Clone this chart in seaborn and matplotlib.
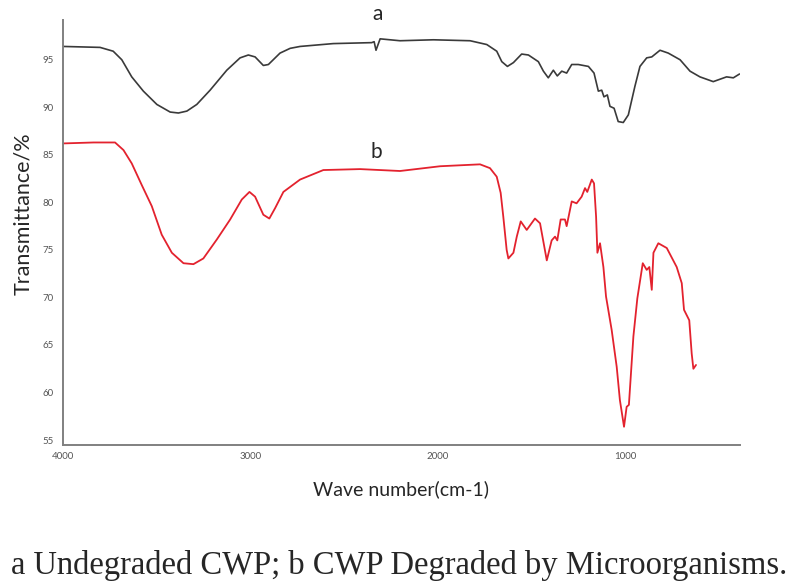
import matplotlib
matplotlib.use('Agg')
import matplotlib.pyplot as plt
import seaborn as sns

# ---- data (wave number, transmittance %) ----
wn_a = [4000, 3803, 3733, 3687, 3634, 3572, 3500, 3429, 3385, 3340,
        3287, 3216, 3127, 3056, 3012, 2976, 2932, 2905, 2843, 2789,
        2736, 2559, 2354, 2341, 2331, 2309, 2203, 2025, 1829, 1740,
        1687, 1660, 1630, 1598, 1554, 1518, 1465, 1438, 1412, 1385,
        1364, 1340, 1314, 1287, 1252, 1198, 1168, 1145, 1127, 1115,
        1097, 1083, 1061, 1039, 1012, 985, 950, 923, 887, 860,
        816, 772, 709, 656, 603, 532, 461, 425, 392]
t_a = [96.4, 96.3, 95.9, 95.0, 93.2, 91.7, 90.3, 89.5, 89.4, 89.6,
       90.3, 91.8, 93.9, 95.2, 95.5, 95.3, 94.4, 94.5, 95.7, 96.2,
       96.4, 96.7, 96.8, 96.9, 96.0, 97.2, 97.0, 97.1, 97.0, 96.6,
       95.9, 94.8, 94.3, 94.7, 95.6, 95.5, 94.8, 93.8, 93.1, 93.9,
       93.3, 93.8, 93.6, 94.5, 94.5, 94.3, 93.6, 91.7, 91.8, 91.1,
       91.3, 90.1, 89.9, 88.5, 88.4, 89.2, 92.2, 94.3, 95.2, 95.3,
       96.0, 95.7, 95.0, 93.8, 93.2, 92.7, 93.2, 93.1, 93.5]

wn_b = [4000, 3838, 3723, 3678, 3634, 3580, 3527, 3474, 3420, 3358,
        3305, 3252, 3180, 3109, 3047, 3006, 2976, 2932, 2900, 2869,
        2825, 2736, 2612, 2416, 2203, 1989, 1776, 1723, 1687, 1666,
        1652, 1634, 1625, 1598, 1580, 1559, 1527, 1483, 1456, 1420,
        1394, 1376, 1364, 1346, 1323, 1314, 1287, 1261, 1234, 1216,
        1204, 1180, 1168, 1157, 1150, 1136, 1118, 1104, 1074, 1047,
        1030, 1008, 994, 982, 958, 937, 908, 887, 873, 860,
        851, 825, 780, 727, 700, 688, 660, 647, 638, 624]
t_b = [86.2, 86.3, 86.3, 85.5, 84.1, 81.8, 79.6, 76.6, 74.7, 73.6,
       73.5, 74.1, 76.1, 78.2, 80.3, 81.1, 80.6, 78.7, 78.3, 79.4,
       81.1, 82.4, 83.4, 83.5, 83.3, 83.8, 84.0, 83.6, 82.7, 81.0,
       78.5, 75.0, 74.1, 74.7, 76.4, 78.0, 77.1, 78.3, 77.8, 73.9,
       76.0, 76.4, 76.0, 78.2, 78.2, 77.5, 80.1, 79.9, 80.6, 81.5,
       81.1, 82.4, 82.0, 78.5, 74.7, 75.7, 73.2, 70.1, 66.6, 62.7,
       59.2, 56.4, 58.5, 58.7, 65.9, 69.9, 73.6, 72.9, 73.2, 70.8,
       74.7, 75.7, 75.2, 73.2, 71.5, 68.7, 67.6, 64.1, 62.5, 62.9]

x_ticks = [4000, 3000, 2000, 1000]
y_ticks = [55, 60, 65, 70, 75, 80, 85, 90, 95]

sns.set_style('white')
plt.rcParams['font.family'] = ['Lato', 'DejaVu Sans']

fig = plt.figure(figsize=(7.99, 5.83), dpi=100)
ax = fig.add_axes([0.079, 0.237, 0.847, 0.729])

sns.lineplot(x=wn_a, y=t_a, sort=False, estimator=None, color='#3a3a3a', lw=1.2, ax=ax)
sns.lineplot(x=wn_b, y=t_b, sort=False, estimator=None, color='#e3222e', lw=1.3, ax=ax)

ax.set_xlim(4000, 390)
ax.set_ylim(54.5, 99.2)
ax.set_xticks(x_ticks)
ax.set_yticks(y_ticks)
ax.tick_params(axis='x', direction='in', length=4, color='#808080', labelsize=7, labelcolor='#555555', pad=5)
ax.tick_params(axis='y', direction='out', length=3, color='#808080', labelsize=7, labelcolor='#555555', pad=4)

sns.despine(ax=ax)
for side in ['left', 'bottom']:
    ax.spines[side].set_color('#808080')
    ax.spines[side].set_linewidth(1.4)

ax.set_xlabel('Wave number(cm-1)', fontsize=14, labelpad=14)
ax.set_ylabel('Transmittance/%', fontsize=15.5)
ax.yaxis.set_label_coords(-0.045, 0.544)

fig.text(0.473, 0.976, 'a', fontsize=15, ha='center', va='center')
fig.text(0.471, 0.739, 'b', fontsize=15, ha='center', va='center')
fig.text(0.5, 0.03, 'a Undegraded CWP; b CWP Degraded by Microorganisms.',
         family='Liberation Serif', fontsize=23.5, ha='center', va='center')

fig.savefig('out.png', dpi=100)
